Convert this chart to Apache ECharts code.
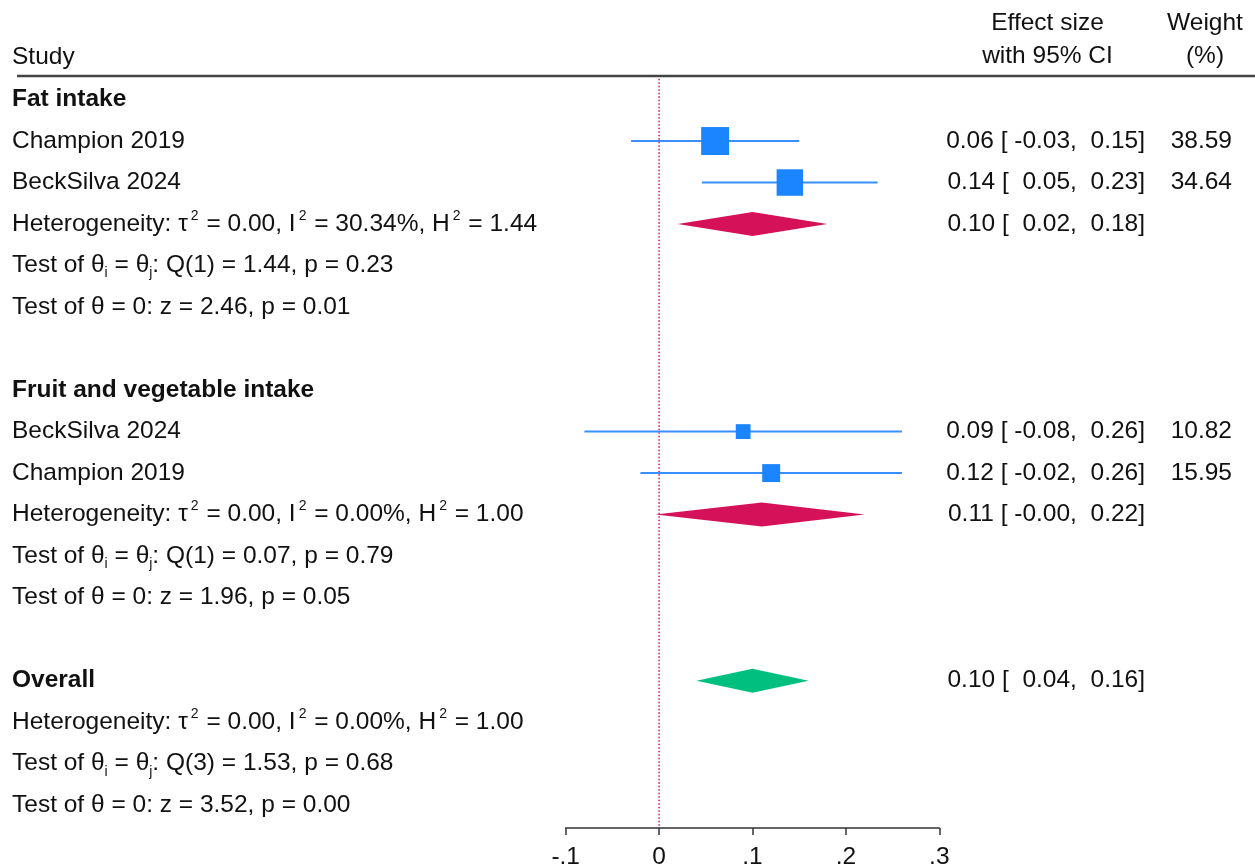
<!DOCTYPE html>
<html>
<head>
<meta charset="utf-8">
<style>
  html, body { margin: 0; padding: 0; background: #fff; }
  #chart { width: 1255px; height: 867px; }
</style>
<script src="https://cdn.jsdelivr.net/npm/echarts@6/dist/echarts.min.js"></script>
</head>
<body>
<div id="chart"></div>
<script>
// forest plot data
const groupNames = ['Fat intake', 'Fruit and vegetable intake']
const studyNames = ['Champion 2019', 'BeckSilva 2024', 'BeckSilva 2024', 'Champion 2019']
const studyGroup = [0, 0, 1, 1]
const studyEffect = [0.06, 0.14, 0.09, 0.12]
const studyLower = [-0.03, 0.046, -0.08, -0.02]
const studyUpper = [0.15, 0.234, 0.26, 0.26]
const studyWeight = [38.59, 34.64, 10.82, 15.95]

const subEffect = [0.10, 0.11]
const subLower = [0.02, -0.004]
const subUpper = [0.18, 0.22]
const subTau2 = ['0.00', '0.00']
const subI2 = ['30.34%', '0.00%']
const subH2 = ['1.44', '1.00']
const subQ = ['Q(1) = 1.44, p = 0.23', 'Q(1) = 0.07, p = 0.79']
const subZ = ['z = 2.46, p = 0.01', 'z = 1.96, p = 0.05']

const overallEffect = 0.10
const overallLower = 0.04
const overallUpper = 0.16
const overallHet = ['0.00', '0.00%', '1.00']
const overallQ = 'Q(3) = 1.53, p = 0.68'
const overallZ = 'z = 3.52, p = 0.00'

const xTickLabels = ['-.1', '0', '.1', '.2', '.3']

const FONT = '"Liberation Sans", Arial, sans-serif'
const FS = 24.5
const BLUE = '#1a85ff'
const RED = '#d41159'
const GREEN = '#00bf7f'

function pad6(v) {
  const s = v.toFixed(2)
  return ' '.repeat(Math.max(0, 6 - s.length)) + s
}
function ciText(e, l, u) {
  return e.toFixed(2) + ' [' + pad6(l) + ',' + pad6(u) + ']'
}
function hetText(t, i, h) {
  return 'Heterogeneity: \u03c4{sup|2} = ' + t + ', I{sup|2} = ' + i + ', H{sup|2} = ' + h
}
function qText(q) {
  return 'Test of \u03b8{sub|i} = \u03b8{sub|j}: ' + q
}
function zText(z) {
  return 'Test of \u03b8 = 0: ' + z
}

// lay out rows
const leftText = []   // [row, text, bold]
const effText = []    // [row, text]
const weightText = [] // [row, text]
const squares = []    // [effect, row, weight]
const ciLines = []    // [low, high, row]
const diamonds = []   // [effect, low, high, row, color]

let r = 0
groupNames.forEach(function(g, gi) {
  leftText.push([r, g, true]); r++
  studyNames.forEach(function(s, si) {
    if (studyGroup[si] !== gi) return
    leftText.push([r, s, false])
    effText.push([r, ciText(studyEffect[si], studyLower[si], studyUpper[si])])
    weightText.push([r, studyWeight[si].toFixed(2)])
    squares.push([studyEffect[si], r, studyWeight[si]])
    ciLines.push([studyLower[si], studyUpper[si], r])
    r++
  })
  leftText.push([r, hetText(subTau2[gi], subI2[gi], subH2[gi]), false])
  effText.push([r, ciText(subEffect[gi], subLower[gi], subUpper[gi])])
  diamonds.push([subEffect[gi], subLower[gi], subUpper[gi], r, RED])
  r++
  leftText.push([r, qText(subQ[gi]), false]); r++
  leftText.push([r, zText(subZ[gi]), false]); r++
  r++
})
leftText.push([r, 'Overall', true])
effText.push([r, ciText(overallEffect, overallLower, overallUpper)])
diamonds.push([overallEffect, overallLower, overallUpper, r, GREEN])
r++
leftText.push([r, hetText(overallHet[0], overallHet[1], overallHet[2]), false]); r++
leftText.push([r, qText(overallQ), false]); r++
leftText.push([r, zText(overallZ), false]); r++

const rich = {
  sup: { fontSize: 14, fontFamily: FONT, fill: '#111', lineHeight: 10, verticalAlign: 'top', padding: [0, 1, 0, 3] },
  sub: { fontSize: 14, fontFamily: FONT, fill: '#111', lineHeight: 22, verticalAlign: 'bottom' }
}

function textSeries(list, x, align) {
  return {
    type: 'custom',
    clip: false,
    silent: true,
    z: 5,
    data: list.map(function(t) { return [0, t[0]] }),
    encode: { x: 0, y: 1 },
    renderItem: function(params, api) {
      const t = list[params.dataIndex]
      const y = api.coord([0, t[0]])[1]
      return {
        type: 'text',
        x: x,
        y: y,
        style: {
          text: t[1],
          fill: '#111',
          fontSize: FS,
          fontFamily: FONT,
          fontWeight: t[2] ? 'bold' : 'normal',
          lineHeight: 30,
          align: align,
          verticalAlign: 'middle',
          rich: rich
        }
      }
    }
  }
}

const chart = echarts.init(document.getElementById('chart'))
chart.setOption({
  animation: false,
  backgroundColor: '#fff',
  textStyle: { fontFamily: FONT },
  grid: { left: 565.7, right: 315.7, top: 78.75, bottom: 39, containLabel: false, outerBoundsMode: 'none' },
  xAxis: {
    type: 'value',
    position: 'bottom',
    min: -0.1,
    max: 0.3,
    interval: 0.1,
    splitLine: { show: false },
    axisLine: { onZero: false, lineStyle: { color: '#333', width: 1.5 } },
    axisTick: { length: 7, lineStyle: { color: '#333', width: 1.5 } },
    axisLabel: {
      color: '#111',
      fontSize: FS,
      fontFamily: FONT,
      margin: 17,
      formatter: function(v) { return xTickLabels[Math.round((v + 0.1) * 10)] }
    }
  },
  yAxis: {
    type: 'value',
    inverse: true,
    min: -0.5,
    max: 17.55,
    show: false
  },
  graphic: [
    { type: 'text', x: 12, y: 57, style: { text: 'Study', fontSize: FS, fontFamily: FONT, fill: '#111', align: 'left', verticalAlign: 'middle' } },
    { type: 'text', x: 1047.5, y: 23, style: { text: 'Effect size', fontSize: FS, fontFamily: FONT, fill: '#111', align: 'center', verticalAlign: 'middle' } },
    { type: 'text', x: 1047.5, y: 56, style: { text: 'with 95% CI', fontSize: FS, fontFamily: FONT, fill: '#111', align: 'center', verticalAlign: 'middle' } },
    { type: 'text', x: 1205, y: 23, style: { text: 'Weight', fontSize: FS, fontFamily: FONT, fill: '#111', align: 'center', verticalAlign: 'middle' } },
    { type: 'text', x: 1205, y: 56, style: { text: '(%)', fontSize: FS, fontFamily: FONT, fill: '#111', align: 'center', verticalAlign: 'middle' } },
    { type: 'line', shape: { x1: 17, y1: 76, x2: 1255, y2: 76 }, style: { stroke: '#444', lineWidth: 2.5 } }
  ],
  series: [
    {
      // no-effect line
      type: 'line',
      data: [[0, -0.5], [0, 17.55]],
      symbol: 'none',
      silent: true,
      z: 1,
      lineStyle: { color: RED, width: 1.5, type: [1.5, 2] }
    },
    {
      type: 'custom',
      silent: true,
      z: 2,
      data: ciLines.map(function(c) { return [c[0], c[1], c[2]] }),
      encode: { x: [0, 1], y: 2 },
      renderItem: function(params, api) {
        const a = api.coord([api.value(0), api.value(2)])
        const b = api.coord([api.value(1), api.value(2)])
        return {
          type: 'line',
          shape: { x1: a[0], y1: a[1], x2: b[0], y2: b[1] },
          style: { stroke: '#3a8fff', lineWidth: 2 }
        }
      }
    },
    {
      type: 'scatter',
      silent: true,
      z: 3,
      symbol: 'rect',
      data: squares,
      symbolSize: function(v) { return 4.5 * Math.sqrt(v[2]) },
      itemStyle: { color: BLUE, opacity: 1 }
    },
    {
      type: 'custom',
      silent: true,
      z: 3,
      data: diamonds.map(function(d) { return [d[0], d[1], d[2], d[3]] }),
      encode: { x: [0, 1, 2], y: 3 },
      renderItem: function(params, api) {
        const row = api.value(3)
        const c = api.coord([api.value(0), row])
        const lo = api.coord([api.value(1), row])
        const hi = api.coord([api.value(2), row])
        const h = 12
        return {
          type: 'polygon',
          shape: { points: [[lo[0], c[1]], [c[0], c[1] - h], [hi[0], c[1]], [c[0], c[1] + h]] },
          style: { fill: diamonds[params.dataIndex][4] }
        }
      }
    },
    textSeries(leftText, 12, 'left'),
    textSeries(effText, 1145, 'right'),
    textSeries(weightText, 1232, 'right')
  ]
})
</script>
</body>
</html>
